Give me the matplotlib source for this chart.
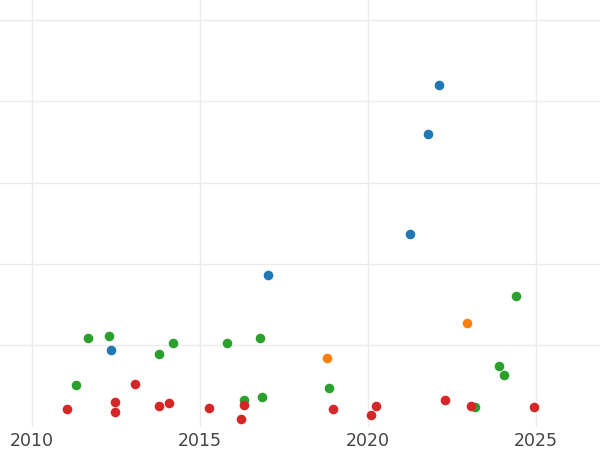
import matplotlib
matplotlib.use("Agg")
import matplotlib.pyplot as plt

blue_x = [2012.37, 2017.03, 2021.26, 2021.78, 2022.13]
blue_y = [93.8, 187.0, 237.5, 359.7, 419.6]

orange_x = [2018.78, 2022.94]
orange_y = [84.9, 127.1]

green_x = [2011.31, 2011.69, 2012.30, 2013.80, 2014.20, 2015.80, 2016.31,
           2016.79, 2016.85, 2018.84, 2023.19, 2023.91, 2024.04, 2024.40]
green_y = [50.8, 109.0, 111.1, 88.9, 103.3, 103.3, 33.2,
           109.0, 36.9, 47.1, 24.1, 75.0, 63.9, 161.2]

red_x = [2011.04, 2012.47, 2012.47, 2013.07, 2013.80, 2014.10, 2015.28,
         2016.23, 2016.31, 2018.96, 2020.09, 2020.26, 2022.30, 2023.07, 2024.96]
red_y = [22.1, 29.8, 17.9, 52.9, 25.8, 29.0, 22.8,
         9.8, 27.0, 22.1, 14.7, 25.8, 33.2, 25.8, 24.1]

x_ticks = [2010, 2015, 2020, 2025]
y_ticks = [100, 200, 300, 400, 500]

fig = plt.figure(figsize=(6, 4.5), dpi=100)
ax = fig.add_axes([0, 1 - 426.7 / 450, 1, 426.7 / 450])

s = 48
ax.scatter(blue_x, blue_y, s=s, color="#1f77b4", linewidths=0, zorder=3)
ax.scatter(orange_x, orange_y, s=s, color="#ff7f0e", linewidths=0, zorder=3)
ax.scatter(green_x, green_y, s=s, color="#2ca02c", linewidths=0, zorder=3)
ax.scatter(red_x, red_y, s=s, color="#d62728", linewidths=0, zorder=3)

ax.set_xlim(2009.06, 2026.91)
ax.set_ylim(0, 524.6)
ax.set_xticks(x_ticks)
ax.set_xticklabels([str(t) for t in x_ticks])
ax.set_yticks(y_ticks)
ax.set_yticklabels([])
ax.tick_params(axis="both", length=0, labelsize=12.5, labelcolor="#444444", pad=3.5)
ax.grid(True, color="#ebebeb", linewidth=1.0, zorder=0)
ax.set_axisbelow(True)
for sp in ax.spines.values():
    sp.set_visible(False)

fig.savefig("out.png", dpi=100)
